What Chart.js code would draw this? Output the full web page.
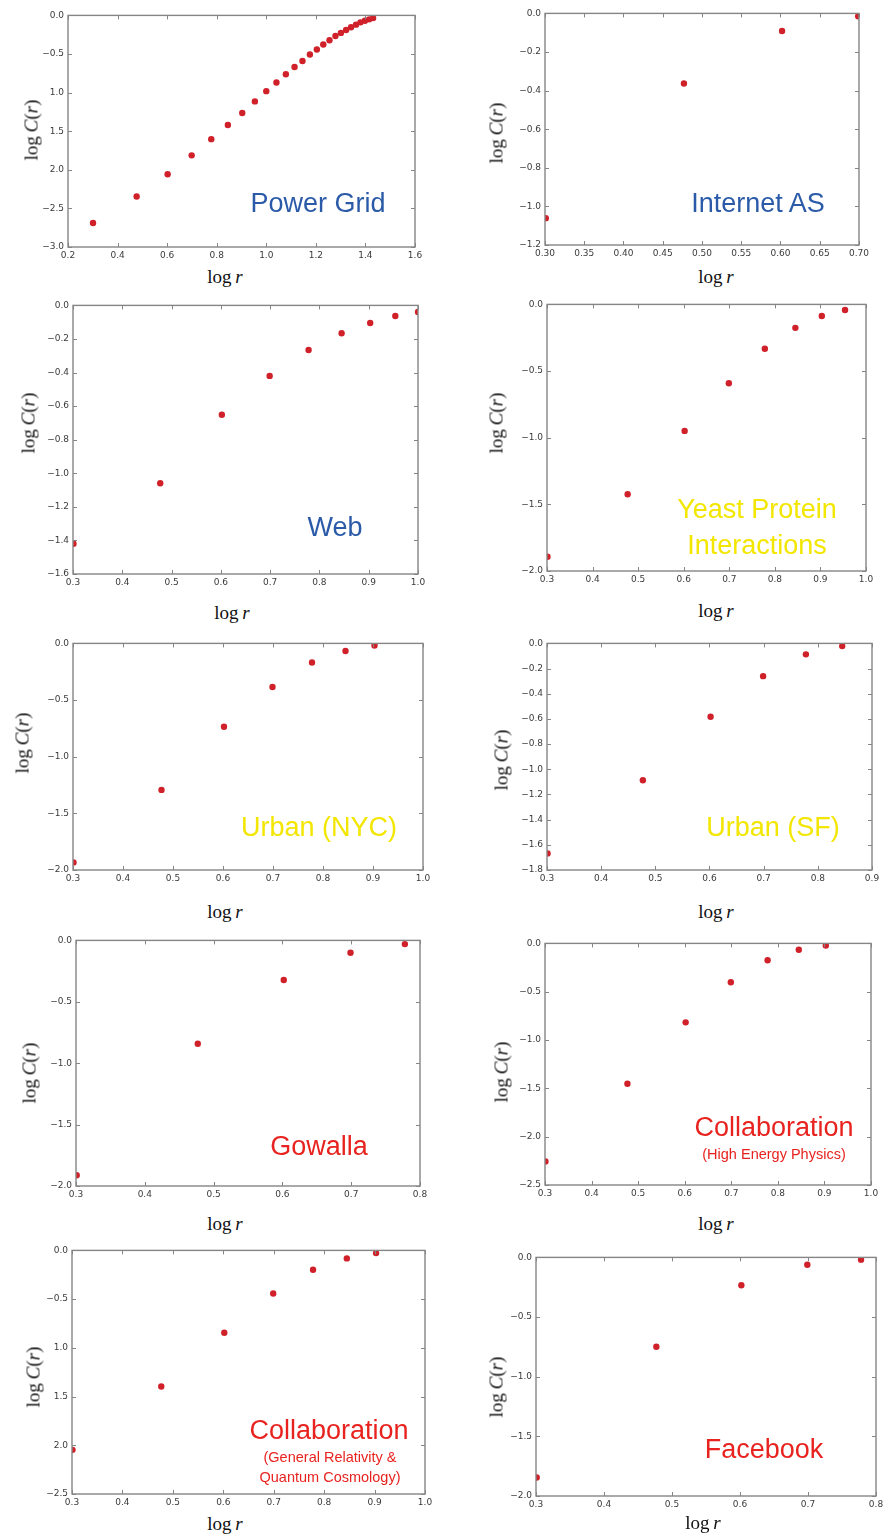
<!DOCTYPE html>
<html>
<head>
<meta charset="utf-8">
<script src="https://cdn.jsdelivr.net/npm/chart.js@4.4.1/dist/chart.umd.min.js"></script>
<style>
  html, body { margin: 0; padding: 0; background: #fff; }
  #root { position: relative; width: 884px; height: 1536px; background: #fff; overflow: hidden; }
  .lbl { position: absolute; white-space: nowrap; line-height: 1; }
  .serif { font-family: "Liberation Serif", "DejaVu Serif", serif; }
  .sans { font-family: "Liberation Sans", Arial, sans-serif; }
</style>
</head>
<body>
<div id="root"></div>
<script>
// ---------------- DATA ----------------
const powerGridX = [0.301,0.477,0.602,0.699,0.778,0.845,0.903,0.954,1.000,1.041,1.079,1.114,1.146,1.176,1.204,1.230,1.255,1.279,1.301,1.322,1.342,1.362,1.380,1.398,1.415,1.431];
const powerGridY = [-2.690,-2.345,-2.057,-1.813,-1.603,-1.419,-1.264,-1.114,-0.981,-0.870,-0.763,-0.669,-0.591,-0.506,-0.441,-0.377,-0.321,-0.266,-0.227,-0.189,-0.154,-0.120,-0.090,-0.069,-0.051,-0.034];

const internetX = [0.301,0.477,0.602,0.699];
const internetY = [-1.061,-0.363,-0.091,-0.015];

const webX = [0.301,0.477,0.602,0.699,0.778,0.845,0.903,0.954,1.000];
const webY = [-1.420,-1.059,-0.651,-0.420,-0.266,-0.166,-0.105,-0.063,-0.039];

const yeastX = [0.301,0.477,0.602,0.699,0.778,0.845,0.903,0.954];
const yeastY = [-1.893,-1.424,-0.949,-0.591,-0.333,-0.176,-0.087,-0.042];

const nycX = [0.301,0.477,0.602,0.699,0.778,0.845,0.903];
const nycY = [-1.933,-1.293,-0.736,-0.385,-0.169,-0.067,-0.018];

const sfX = [0.301,0.477,0.602,0.699,0.778,0.845];
const sfY = [-1.668,-1.087,-0.583,-0.260,-0.087,-0.021];

const gowallaX = [0.301,0.477,0.602,0.699,0.778];
const gowallaY = [-1.913,-0.842,-0.322,-0.100,-0.030];

const hepX = [0.301,0.477,0.602,0.699,0.778,0.845,0.903];
const hepY = [-2.256,-1.453,-0.817,-0.402,-0.175,-0.065,-0.021];

const grqcX = [0.301,0.477,0.602,0.699,0.778,0.845,0.903];
const grqcY = [-2.047,-1.396,-0.845,-0.443,-0.198,-0.082,-0.027];

const facebookX = [0.301,0.477,0.602,0.699,0.778];
const facebookY = [-1.845,-0.749,-0.233,-0.061,-0.019];

// tick values and tick labels (ascending)
const pgXTicks = [0.2,0.4,0.6,0.8,1.0,1.2,1.4,1.6];
const pgXLabels = ["0.2","0.4","0.6","0.8","1.0","1.2","1.4","1.6"];
const pgYTicks = [-3.0,-2.5,-2.0,-1.5,-1.0,-0.5,0.0];
const pgYLabels = ["\u22123.0","\u22122.5","2.0","1.5","1.0","\u22120.5","0.0"];

const asXTicks = [0.30,0.35,0.40,0.45,0.50,0.55,0.60,0.65,0.70];
const asXLabels = ["0.30","0.35","0.40","0.45","0.50","0.55","0.60","0.65","0.70"];
const asYTicks = [-1.2,-1.0,-0.8,-0.6,-0.4,-0.2,0.0];
const asYLabels = ["\u22121.2","\u22121.0","\u22120.8","\u22120.6","\u22120.4","\u22120.2","0.0"];

const x10Ticks = [0.3,0.4,0.5,0.6,0.7,0.8,0.9,1.0];
const x10Labels = ["0.3","0.4","0.5","0.6","0.7","0.8","0.9","1.0"];
const x09Ticks = [0.3,0.4,0.5,0.6,0.7,0.8,0.9];
const x09Labels = ["0.3","0.4","0.5","0.6","0.7","0.8","0.9"];
const x08Ticks = [0.3,0.4,0.5,0.6,0.7,0.8];
const x08Labels = ["0.3","0.4","0.5","0.6","0.7","0.8"];

const webYTicks = [-1.6,-1.4,-1.2,-1.0,-0.8,-0.6,-0.4,-0.2,0.0];
const webYLabels = ["\u22121.6","\u22121.4","\u22121.2","\u22121.0","\u22120.8","\u22120.6","\u22120.4","\u22120.2","0.0"];

const y20Ticks = [-2.0,-1.5,-1.0,-0.5,0.0];
const y20Labels = ["\u22122.0","\u22121.5","\u22121.0","\u22120.5","0.0"];

const sfYTicks = [-1.8,-1.6,-1.4,-1.2,-1.0,-0.8,-0.6,-0.4,-0.2,0.0];
const sfYLabels = ["\u22121.8","\u22121.6","\u22121.4","\u22121.2","\u22121.0","\u22120.8","\u22120.6","\u22120.4","\u22120.2","0.0"];

const y25Ticks = [-2.5,-2.0,-1.5,-1.0,-0.5,0.0];
const hepYLabels = ["\u22122.5","\u22122.0","\u22121.5","\u22121.0","\u22120.5","0.0"];
const grqcYLabels = ["\u22122.5","2.0","1.5","1.0","\u22120.5","0.0"];

const names = ["Power Grid","Internet AS","Web","Yeast Protein\nInteractions","Urban (NYC)","Urban (SF)","Gowalla","Collaboration","Collaboration","Facebook"];
const subNames = ["","","","","","","","(High Energy Physics)","(General Relativity &\nQuantum Cosmology)",""];

// ---------------- LAYOUT ----------------
const BLUE = "#2b5ba8", YELLOW = "#f3e600", RED = "#e8231f";
const plots = [
  { x: powerGridX, y: powerGridY, area: [68,14,415,247], xr: [0.2,1.6], yr: [-3,0], xt: pgXTicks, xl: pgXLabels, yt: pgYTicks, yl: pgYLabels,
    ylab: [31,130], xlab: [225,283], name: 0, color: BLUE, nameAt: [318,213], subAt: null },
  { x: internetX, y: internetY, area: [545,12,860,245], xr: [0.3,0.7], yr: [-1.2,0], xt: asXTicks, xl: asXLabels, yt: asYTicks, yl: asYLabels,
    ylab: [496,133], xlab: [716,283], name: 1, color: BLUE, nameAt: [758,213], subAt: null },
  { x: webX, y: webY, area: [73,304,418,574], xr: [0.3,1.0], yr: [-1.6,0], xt: x10Ticks, xl: x10Labels, yt: webYTicks, yl: webYLabels,
    ylab: [28,423], xlab: [232,619], name: 2, color: BLUE, nameAt: [335,537], subAt: null },
  { x: yeastX, y: yeastY, area: [547,303,866,571], xr: [0.3,1.0], yr: [-2,0], xt: x10Ticks, xl: x10Labels, yt: y20Ticks, yl: y20Labels,
    ylab: [496,423], xlab: [716,617], name: 3, color: YELLOW, nameAt: [757,519], lineGap: 36, subAt: null },
  { x: nycX, y: nycY, area: [73,642,423,870], xr: [0.3,1.0], yr: [-2,0], xt: x10Ticks, xl: x10Labels, yt: y20Ticks, yl: y20Labels,
    ylab: [22,743], xlab: [225,918], name: 4, color: YELLOW, nameAt: [319,837], subAt: null },
  { x: sfX, y: sfY, area: [547,642,872,870], xr: [0.3,0.9], yr: [-1.8,0], xt: x09Ticks, xl: x09Labels, yt: sfYTicks, yl: sfYLabels,
    ylab: [501,760], xlab: [716,918], name: 5, color: YELLOW, nameAt: [773,837], subAt: null },
  { x: gowallaX, y: gowallaY, area: [76,939,420,1186], xr: [0.3,0.8], yr: [-2,0], xt: x08Ticks, xl: x08Labels, yt: y20Ticks, yl: y20Labels,
    ylab: [29,1073], xlab: [225,1230], name: 6, color: RED, nameAt: [319,1156], subAt: null },
  { x: hepX, y: hepY, area: [545,942,871,1185], xr: [0.3,1.0], yr: [-2.5,0], xt: x10Ticks, xl: x10Labels, yt: y25Ticks, yl: hepYLabels,
    ylab: [501,1072], xlab: [716,1230], name: 7, color: RED, nameAt: [774,1137], subAt: [774,1159] },
  { x: grqcX, y: grqcY, area: [72,1249,425,1494], xr: [0.3,1.0], yr: [-2.5,0], xt: x10Ticks, xl: x10Labels, yt: y25Ticks, yl: grqcYLabels,
    ylab: [33,1377], xlab: [225,1530], name: 8, color: RED, nameAt: [329,1440], subAt: [330,1462], subGap: 20 },
  { x: facebookX, y: facebookY, area: [536,1256,876,1496], xr: [0.3,0.8], yr: [-2,0], xt: x08Ticks, xl: x08Labels, yt: y20Ticks, yl: y20Labels,
    ylab: [496,1387], xlab: [703,1529], name: 9, color: RED, nameAt: [764,1459], subAt: null }
];

const root = document.getElementById('root');
const TICK_FONT = { family: "DejaVu Sans", size: 9 };
const TICK_COLOR = "#3a3a3a";
const FRAME = "#858585";
const DOT = "#d0212a";

const framePlugin = {
  id: 'mplFrame',
  afterDatasetsDraw(chart) {
    const { ctx, chartArea: a, scales: { x, y } } = chart;
    ctx.save();
    ctx.strokeStyle = FRAME;
    ctx.lineWidth = 1;
    ctx.beginPath();
    x.ticks.forEach(t => {
      const px = Math.round(x.getPixelForValue(t.value)) + 0.5;
      ctx.moveTo(px, a.bottom); ctx.lineTo(px, a.bottom - 4);
      ctx.moveTo(px, a.top); ctx.lineTo(px, a.top + 4);
    });
    y.ticks.forEach(t => {
      const py = Math.round(y.getPixelForValue(t.value)) + 0.5;
      ctx.moveTo(a.left, py); ctx.lineTo(a.left + 4, py);
      ctx.moveTo(a.right, py); ctx.lineTo(a.right - 4, py);
    });
    ctx.stroke();
    ctx.lineWidth = 1.4;
    ctx.strokeRect(a.left, a.top, a.right - a.left, a.bottom - a.top);
    ctx.restore();
  }
};

function addText(html, cls, css) {
  const d = document.createElement('div');
  d.className = 'lbl ' + cls;
  d.innerHTML = html;
  Object.assign(d.style, css);
  root.appendChild(d);
  return d;
}

function placeBaseline(html, cls, cx, baseline, size, color, ascentRatio) {
  return addText(html, cls, {
    left: cx + 'px', top: (baseline - ascentRatio * size) + 'px',
    fontSize: size + 'px', color: color, transform: 'translateX(-50%)'
  });
}

function makePlot(p) {
  const padL = 48, padT = 8, padR = 12, padB = 18;
  const [l, t, r, b] = p.area;
  const W = r - l + padL + padR, H = b - t + padT + padB;
  const c = document.createElement('canvas');
  c.width = W; c.height = H;
  Object.assign(c.style, { position: 'absolute', left: (l - padL) + 'px', top: (t - padT) + 'px', width: W + 'px', height: H + 'px' });
  root.appendChild(c);

  new Chart(c, {
    type: 'scatter',
    data: { datasets: [{
      data: p.x.map((v, i) => ({ x: v, y: p.y[i] })),
      backgroundColor: DOT, borderColor: DOT, borderWidth: 0,
      pointRadius: 3.2, pointHoverRadius: 3.2, clip: 0, showLine: false
    }]},
    options: {
      responsive: false, animation: false, events: [],
      layout: { padding: { left: 0, top: padT, right: padR, bottom: 0 } },
      plugins: { legend: { display: false }, tooltip: { enabled: false }, title: { display: false } },
      scales: {
        x: {
          type: 'linear', min: p.xr[0], max: p.xr[1],
          afterBuildTicks: s => { s.ticks = p.xt.map(v => ({ value: v })); },
          afterFit: s => { s.height = padB; },
          grid: { display: false, drawTicks: false }, border: { display: false },
          ticks: { callback: (v, i) => p.xl[i], font: TICK_FONT, color: TICK_COLOR, padding: 3, maxRotation: 0, autoSkip: false }
        },
        y: {
          type: 'linear', min: p.yr[0], max: p.yr[1],
          afterBuildTicks: s => { s.ticks = p.yt.map(v => ({ value: v })); },
          afterFit: s => { s.width = padL; },
          grid: { display: false, drawTicks: false }, border: { display: false },
          ticks: { callback: (v, i) => p.yl[i], font: TICK_FONT, color: TICK_COLOR, padding: 4, autoSkip: false }
        }
      }
    },
    plugins: [framePlugin]
  });

  // axis labels
  addText('log&thinsp;<i>C</i>(<i>r</i>)', 'serif', {
    left: p.ylab[0] + 'px', top: p.ylab[1] + 'px', fontSize: '19px', color: '#111',
    transform: 'translate(-50%,-50%) rotate(-90deg)'
  });
  placeBaseline('log&thinsp;<i>r</i>', 'serif', p.xlab[0], p.xlab[1], 19, '#111', 0.8375);

  // annotation
  const lines = names[p.name].split('\n');
  const gap = p.lineGap || 36;
  lines.forEach((ln, k) => placeBaseline(ln, 'sans', p.nameAt[0], p.nameAt[1] + k * gap, 27, p.color, 0.847));
  if (p.subAt) {
    const subs = subNames[p.name].split('\n');
    const sg = p.subGap || 20;
    subs.forEach((ln, k) => placeBaseline(ln, 'sans', p.subAt[0], p.subAt[1] + k * sg, 14.5, p.color, 0.847));
  }
}

plots.forEach(makePlot);
</script>
</body>
</html>
